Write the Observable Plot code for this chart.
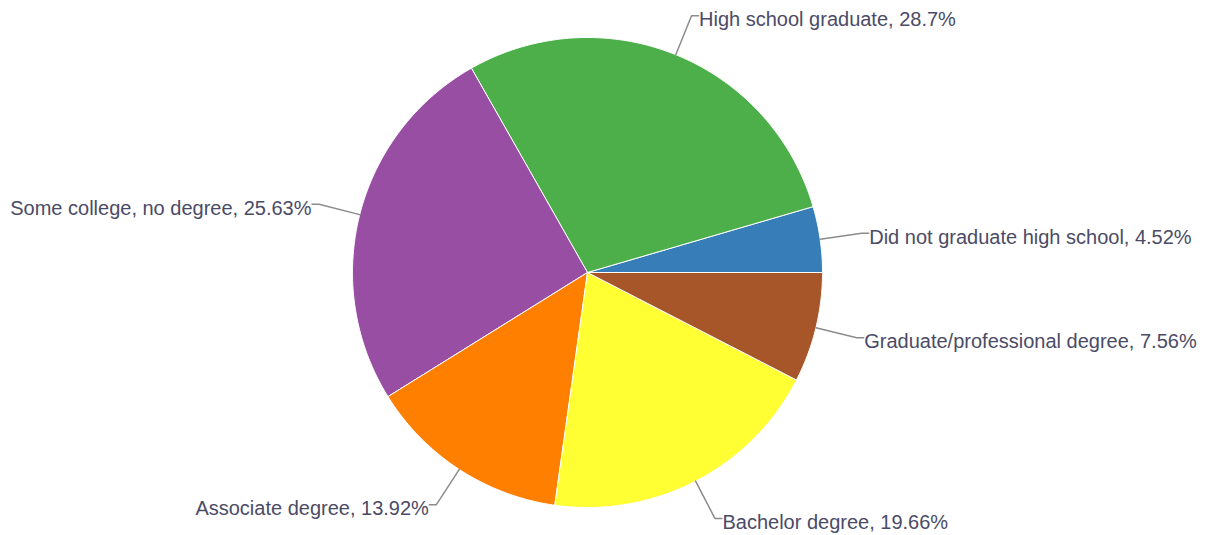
<!DOCTYPE html>
<html>
<head>
<meta charset="utf-8">
<script src="https://cdn.jsdelivr.net/npm/d3@7"></script>
<script src="https://cdn.jsdelivr.net/npm/@observablehq/plot@0.6"></script>
<style>
  html, body { margin: 0; padding: 0; background: #fff; }
  #chart { width: 1207px; height: 535px; }
</style>
</head>
<body>
<div id="chart"></div>
<script>
const categories = ["Did not graduate high school", "High school graduate", "Some college, no degree", "Associate degree", "Bachelor degree", "Graduate/professional degree"];
const values = [4.52, 28.7, 25.63, 13.92, 19.66, 7.56];
const colors = ["#377eb8", "#4daf4a", "#984ea3", "#ff7f00", "#ffff33", "#a65628"];

const total = d3.sum(values);
const R = 1;            // pie radius (data units)
const RL = 277 / 235;   // leader elbow radius
const H = 7 / 235;      // horizontal leader length

const slicePts = [];
const leaderPts = [];
const labels = [];
let acc = 0;
categories.forEach((cat, i) => {
  const a0 = acc / total * 2 * Math.PI;
  acc += values[i];
  const a1 = acc / total * 2 * Math.PI;
  slicePts.push({cat, x: 0, y: 0});
  const n = Math.max(2, Math.ceil((a1 - a0) / (Math.PI / 360)));
  for (let k = 0; k <= n; k++) {
    const a = a0 + (a1 - a0) * k / n;
    slicePts.push({cat, x: R * Math.cos(a), y: R * Math.sin(a)});
  }
  slicePts.push({cat, x: 0, y: 0});
  const am = (a0 + a1) / 2;
  const c = Math.cos(am), s = Math.sin(am);
  const side = c >= 0 ? 1 : -1;
  const ex = RL * c, ey = RL * s;
  leaderPts.push({cat, x: R * c, y: R * s});
  leaderPts.push({cat, x: ex, y: ey});
  leaderPts.push({cat, x: ex + side * H, y: ey});
  labels.push({cat, x: ex + side * H, y: ey, side, text: `${cat}, ${values[i]}%`});
});

const chart = Plot.plot({
  width: 1207,
  height: 535,
  margin: 0,
  x: {domain: [-1, 1], range: [352, 822], axis: null},
  y: {domain: [-1, 1], range: [507, 37], axis: null},
  color: {domain: categories, range: colors},
  style: {background: "#fff", fontFamily: "'Liberation Sans', Arial, sans-serif"},
  marks: [
    Plot.line(slicePts, {x: "x", y: "y", z: "cat", fill: "cat", stroke: "#ffffff", strokeWidth: 1, curve: "linear", strokeLinejoin: "round"}),
    Plot.line(leaderPts, {x: "x", y: "y", z: "cat", stroke: "#8c8c8c", strokeWidth: 1.5, curve: "linear"}),
    Plot.text(labels.filter(d => d.side > 0), {x: "x", y: "y", text: "text", textAnchor: "start", dx: 0.5, dy: 4, fontSize: 20, fill: "#4b4b66"}),
    Plot.text(labels.filter(d => d.side < 0), {x: "x", y: "y", text: "text", textAnchor: "end", dx: -0.5, dy: 4, fontSize: 20, fill: "#4b4b66"})
  ]
});
document.getElementById("chart").appendChild(chart);
</script>
</body>
</html>
